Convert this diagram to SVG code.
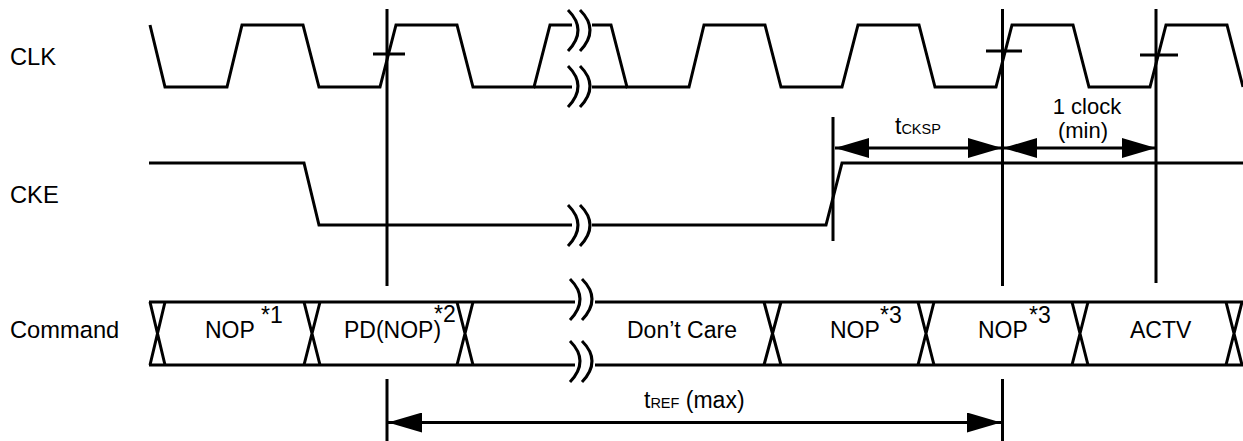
<svg xmlns="http://www.w3.org/2000/svg" width="1243" height="441" viewBox="0 0 1243 441">
<style>
.s{fill:none;stroke:#000;stroke-width:3;stroke-linejoin:miter}
.v{fill:none;stroke:#000;stroke-width:3}
.a{fill:none;stroke:#000;stroke-width:3;marker-start:url(#h);marker-end:url(#h)}
text{font-family:"Liberation Sans",Arial,sans-serif;font-size:23px;fill:#000}
.l{font-size:23.7px}
.c{font-size:22px}
.sm{font-size:14.5px}
</style>
<defs>
<marker id="h" markerUnits="userSpaceOnUse" markerWidth="36" markerHeight="20" refX="34" refY="10" orient="auto-start-reverse"><path d="M0,0L34,10L0,20Z" fill="#000"/></marker>
<path id="b" d="M0,0Q20,20 0,41M12,0Q32,20 12,41" fill="none" stroke="#000" stroke-width="3"/>
</defs>
<rect width="1243" height="441" fill="#fff"/>
<g id="clk">
<text class="l" x="10" y="65">CLK</text>
<path class="s" d="M150,25L165,87H227L242,25H303L319,87H380L396,25H457L473,87H534L550,25H572M592,25H611L627,87H689L704,25H765L781,87H842L858,25H919L935,87H996L1012,25H1073L1089,87H1150L1166,25H1227L1243,87"/>
<path class="s" d="M534,87H572M592,87H627"/>
<use href="#b" x="568" y="10"/><use href="#b" x="568" y="66"/>
</g>
<g id="cke">
<text class="l" x="10" y="203">CKE</text>
<path class="s" d="M149,163H304L319,225H572M592,225H826L842,163H1243"/>
<use href="#b" x="568" y="205"/>
</g>
<g id="command">
<text class="l" x="10" y="338">Command</text>
<path class="s" d="M149,302H575M595,302H1243M149,365H575M595,365H1243"/>
<path class="s" d="M150,302L165,365M165,302L150,365M304,302L320,365M320,302L304,365M457,302L473,365M473,302L457,365M764,302L781,365M781,302L764,365M918,302L934,365M934,302L918,365M1072,302L1088,365M1088,302L1072,365M1226,302L1242,365M1242,302L1226,365"/>
<use href="#b" x="570" y="279"/><use href="#b" x="570" y="341"/>
<text x="205" y="338">NOP</text><text x="261" y="323">*1</text>
<text x="344" y="338">PD(NOP)</text><text x="434" y="322">*2</text>
<text x="627" y="338">Don’t Care</text>
<text x="830" y="338">NOP</text><text x="880" y="323">*3</text>
<text x="978" y="338">NOP</text><text x="1029" y="323">*3</text>
<text x="1130" y="338">ACTV</text>
</g>
<g id="connectors">
<path class="v" d="M387,9V286M387,379V441M1002.500,9V286M1002.500,379V441M1156,9V283M833,117V241M373,54H405M986,51H1022M1140,55H1178"/>
<path class="a" d="M835,148H1002"/>
<path class="a" d="M1003,148H1156"/>
<path class="a" d="M388,422.500H1001"/>
</g>
<g id="labels">
<text x="895" y="134">t<tspan class="sm">CKSP</tspan></text>
<text class="c" x="1087" y="114" text-anchor="middle">1 clock</text>
<text class="c" x="1083" y="138" text-anchor="middle">(min)</text>
<text x="644" y="408">t<tspan class="sm">REF</tspan> (max)</text>
</g>
</svg>
